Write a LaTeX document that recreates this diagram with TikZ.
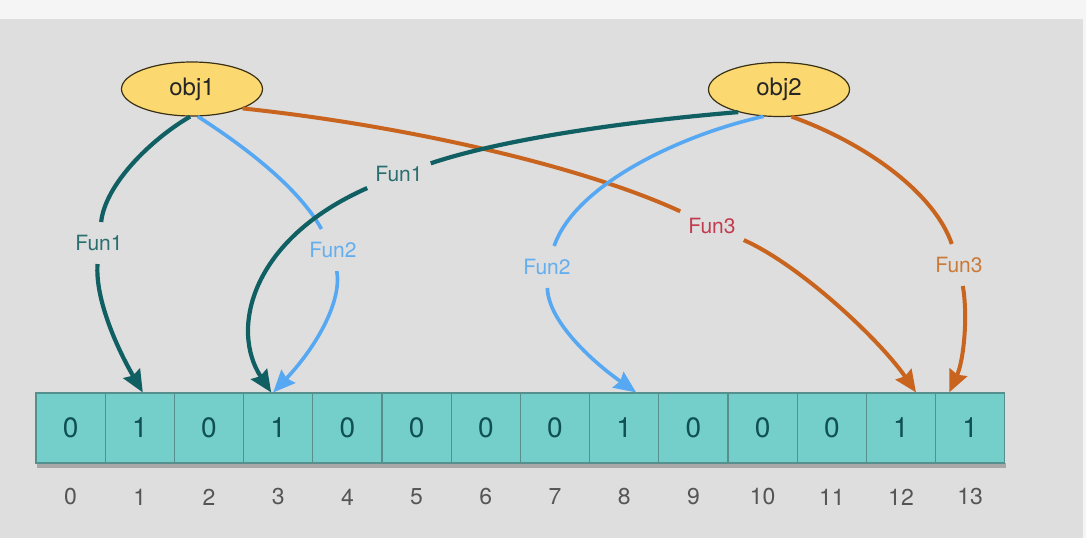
\documentclass[tikz,border=0pt]{standalone}
\usepackage{fontspec}
\setmainfont{TeX Gyre Heros}
\usetikzlibrary{shapes.geometric,arrows.meta,calc}
\definecolor{topbg}{HTML}{F5F5F5}
\definecolor{panel}{HTML}{DEDEDE}
\definecolor{tealc}{HTML}{0F5F63}
\definecolor{tealtxt}{HTML}{2A6F70}
\definecolor{bluec}{HTML}{56A8F2}
\definecolor{bluetxt}{HTML}{62AEEF}
\definecolor{orangec}{HTML}{C8641E}
\definecolor{orangetxt}{HTML}{C97A38}
\definecolor{redtxt}{HTML}{C23B4E}
\definecolor{objfill}{HTML}{FCD970}
\definecolor{objborder}{HTML}{3A3015}
\definecolor{cellfill}{HTML}{74CFCB}
\definecolor{cellborder}{HTML}{56908E}
\definecolor{celltxt}{HTML}{0F4F55}
\definecolor{idxtxt}{HTML}{555555}
\definecolor{shadowc}{HTML}{A8A8A8}
\begin{document}
\begin{tikzpicture}[x=1pt,y=-1pt,
  objnode/.style={ellipse, draw=objborder, line width=1.2pt, fill=objfill,
    minimum width=141pt, minimum height=54pt, inner sep=0pt,
    font=\fontsize{24}{28}\selectfont, text=black!85},
  cellnode/.style={rectangle, draw=cellborder, line width=1.1pt, fill=cellfill,
    minimum width=69.2pt, minimum height=70pt, inner sep=0pt,
    font=\fontsize{28}{32}\selectfont, text=celltxt},
  idxnode/.style={inner sep=0pt, font=\fontsize{23}{26}\selectfont, text=idxtxt},
  labnode/.style={inner xsep=8pt, inner ysep=13pt, font=\fontsize{21}{25}\selectfont},
  tealline/.style={draw=tealc, line width=4.2pt},
  blueline/.style={draw=bluec, line width=3.6pt},
  orangeline/.style={draw=orangec, line width=4pt},
  tipend/.style={-{Stealth[length=22pt,width=19pt,inset=2.5pt]}}
]
\useasboundingbox (0,0) rectangle (1086,538);
\fill[topbg] (0,0) rectangle (1086,19);
\fill[panel] (0,19) rectangle (1083,538);
\fill[topbg] (1083,19) rectangle (1086,538);

% array
\fill[shadowc] (37,463) rectangle (1006,467.5);
\foreach \v [count=\i from 0] in {0,1,0,1,0,0,0,0,1,0,0,0,1,1} {
  \node[cellnode] (c\i) at ({70.6+69.2*\i},428) {\v};
  \node[idxnode] (i\i) at ({70.6+69.2*\i},497) {\i};
}

% objects
\node[objnode] (obj1) at (192,89) {obj1};
\node[objnode] (obj2) at (779,89.5) {obj2};

% labels
\node[labnode, text=tealtxt] (L1a) at (99,243) {Fun1};
\node[labnode, text=bluetxt] (L2a) at (333,250) {Fun2};
\node[labnode, text=redtxt] (L3a) at (712,226) {Fun3};
\node[labnode, text=tealtxt] (L1b) at (399,174) {Fun1};
\node[labnode, text=bluetxt] (L2b) at (547,267) {Fun2};
\node[labnode, text=orangetxt] (L3b) at (959,265) {Fun3};

% targets
\coordinate (t1) at ([xshift=3pt]c1.north);
\coordinate (t3a) at ([xshift=-7pt]c3.north);
\coordinate (t3b) at ([xshift=-5pt]c3.north);
\coordinate (t8) at ([xshift=12pt]c8.north);
\coordinate (t12) at ([xshift=15pt]c12.north);
\coordinate (t13) at ([xshift=-21pt]c13.north);

% obj1 Fun1
\draw[tealline] (obj1.-94) .. controls (150,140) and (105,185) .. (L1a);
\draw[tealline, tipend] (L1a) .. controls (95,300) and (118,350) .. (t1);
% obj1 Fun2
\draw[blueline] (obj1.-78) .. controls (250,150) and (300,190) .. (L2a);
\draw[blueline, tipend] (L2a) .. controls (342,300) and (318,345) .. (t3b);
% obj1 Fun3
\draw[orangeline] (obj1.-21) .. controls (400,125) and (580,165) .. (L3a);
\draw[orangeline, tipend] (L3a) .. controls (800,265) and (880,340) .. (t12);
% obj2 Fun1
\draw[tealline] (obj2.-151) .. controls (620,122) and (500,140) .. (L1b);
\draw[tealline, tipend] (L1b) .. controls (250,240) and (230,330) .. (t3a);
% obj2 Fun2
\draw[blueline] (obj2.-120) .. controls (680,135) and (575,185) .. (L2b);
\draw[blueline, tipend] (L2b) .. controls (548,320) and (590,360) .. (t8);
% obj2 Fun3
\draw[orangeline] (obj2.-65) .. controls (870,145) and (935,195) .. (L3b);
\draw[orangeline, tipend] (L3b) .. controls (968,315) and (964,360) .. (t13);
\end{tikzpicture}
\end{document}
